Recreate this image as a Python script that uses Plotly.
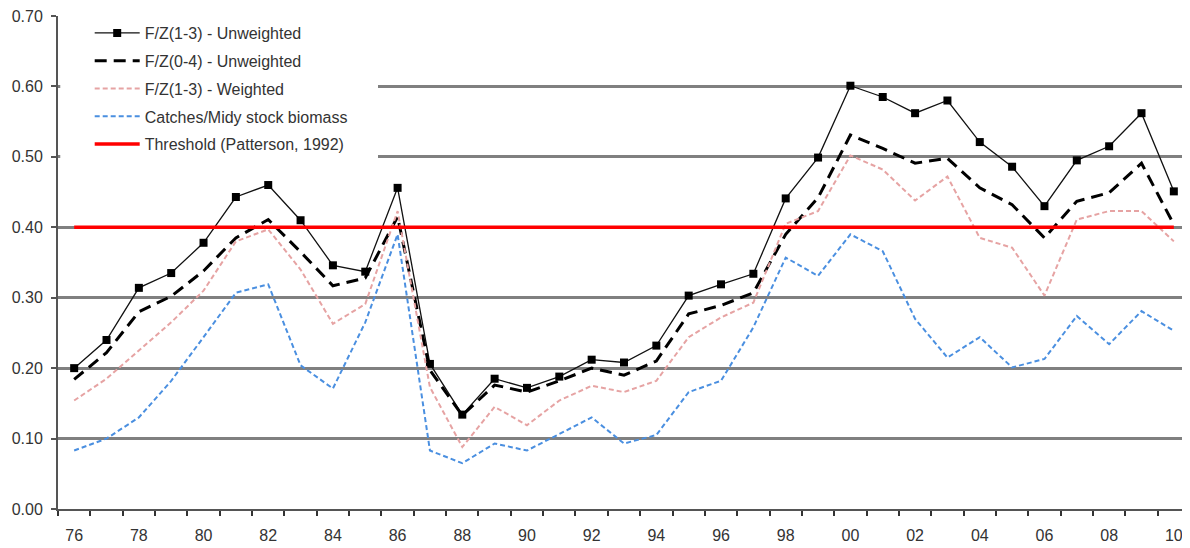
import plotly.graph_objects as go

years = list(range(1976, 2011))
tick_years = list(range(1976, 2011, 2))
tick_labels = [f"{y % 100:02d}" for y in tick_years]

fz13_unw = [0.200, 0.240, 0.314, 0.335, 0.378, 0.443, 0.460, 0.410, 0.346, 0.337,
            0.456, 0.206, 0.134, 0.185, 0.172, 0.188, 0.212, 0.208, 0.232, 0.303,
            0.319, 0.334, 0.441, 0.499, 0.601, 0.585, 0.562, 0.580, 0.521, 0.486,
            0.430, 0.495, 0.515, 0.562, 0.451]
fz04_unw = [0.184, 0.222, 0.280, 0.302, 0.338, 0.385, 0.411, 0.365, 0.317, 0.328,
            0.415, 0.197, 0.133, 0.176, 0.166, 0.182, 0.200, 0.190, 0.210, 0.277,
            0.289, 0.307, 0.390, 0.442, 0.531, 0.512, 0.491, 0.498, 0.456, 0.432,
            0.385, 0.437, 0.449, 0.491, 0.404]
fz13_w = [0.154, 0.185, 0.225, 0.265, 0.310, 0.380, 0.397, 0.340, 0.263, 0.291,
          0.423, 0.173, 0.088, 0.145, 0.119, 0.154, 0.175, 0.166, 0.182, 0.244,
          0.272, 0.293, 0.405, 0.423, 0.502, 0.482, 0.438, 0.472, 0.385, 0.371,
          0.303, 0.411, 0.423, 0.423, 0.380]
catches_midy = [0.083, 0.100, 0.130, 0.182, 0.244, 0.307, 0.319, 0.204, 0.171, 0.265,
                0.390, 0.083, 0.065, 0.093, 0.083, 0.107, 0.130, 0.093, 0.105, 0.166,
                0.182, 0.258, 0.357, 0.331, 0.390, 0.366, 0.270, 0.215, 0.244, 0.201,
                0.213, 0.274, 0.234, 0.281, 0.253]
threshold = [0.40] * len(years)

names = ["F/Z(1-3) - Unweighted", "F/Z(0-4) - Unweighted", "F/Z(1-3) - Weighted",
         "Catches/Midy stock biomass", "Threshold (Patterson, 1992)"]

fig = go.Figure()
fig.add_trace(go.Scatter(x=years, y=fz13_unw, name=names[0], mode="lines+markers",
                         line=dict(color="#111111", width=1.3),
                         marker=dict(symbol="square", size=8, color="#000000"),
                         legendgroup="a"))
fig.add_trace(go.Scatter(x=years, y=fz04_unw, name=names[1], mode="lines",
                         line=dict(color="#000000", width=3, dash="12px,7px"),
                         legendgroup="b"))
fig.add_trace(go.Scatter(x=years, y=fz13_w, name=names[2], mode="lines",
                         line=dict(color="#E6A3A3", width=2, dash="5px,3px"),
                         legendgroup="c"))
fig.add_trace(go.Scatter(x=years, y=catches_midy, name=names[3], mode="lines",
                         line=dict(color="#4A8FE0", width=2, dash="5px,3px"),
                         legendgroup="d"))
fig.add_trace(go.Scatter(x=years, y=threshold, name=names[4], mode="lines",
                         line=dict(color="#FF0000", width=3.5),
                         legendgroup="e"))

fig.add_shape(type="rect", xref="paper", yref="y", x0=0.002, x1=(378 - 58) / 1132,
              y0=0.485, y1=0.72, fillcolor="white", line=dict(width=0), layer="above")

fig.update_layout(
    width=1182, height=540,
    margin=dict(l=50, r=0, t=6, b=39),
    paper_bgcolor="white", plot_bgcolor="white",
    font=dict(family="Liberation Sans, Arial, sans-serif", color="#333333", size=16),
    showlegend=True,
    legend=dict(x=0.028, y=1.0, xanchor="left", yanchor="top",
                bgcolor="rgba(255,255,255,0)", font=dict(size=16, color="#333333"),
                tracegroupgap=4, itemwidth=45),
    xaxis=dict(range=[1975.5, 2010.5], tickmode="array", tickvals=tick_years,
               ticktext=tick_labels, ticks="", showgrid=False, zeroline=False,
               showline=True, linecolor="#555555", linewidth=2,
               minor=dict(tick0=1975.5, dtick=1, ticks="outside", ticklen=5,
                          tickwidth=2, tickcolor="#333333", showgrid=False),
               ticklabelstandoff=11, ticklabeloverflow="allow",
               tickfont=dict(size=16, color="#333333")),
    yaxis=dict(range=[0, 0.70], tickmode="array",
               tickvals=[0, 0.1, 0.2, 0.3, 0.4, 0.5, 0.6, 0.7], tickformat=".2f",
               ticks="outside", ticklen=5, tickwidth=2, tickcolor="#555555",
               showgrid=True, gridcolor="#808080", gridwidth=2.5, zeroline=False,
               showline=True, linecolor="#555555", linewidth=2,
               ticklabelstandoff=5, ticklabeloverflow="allow",
               tickfont=dict(size=16, color="#333333")),
)

fig.write_html("out.html")
